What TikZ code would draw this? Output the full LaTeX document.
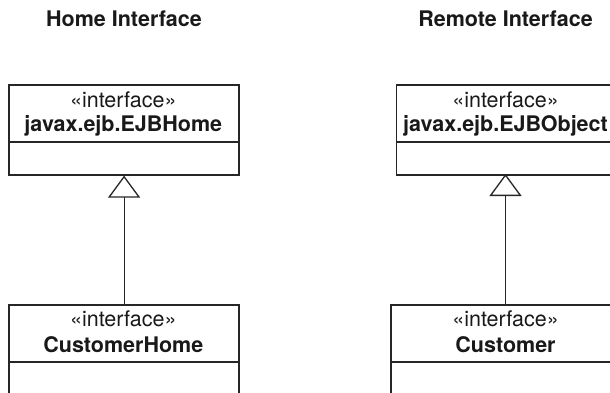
\documentclass[tikz,border=0pt]{standalone}
\usepackage{fontspec}
\setmainfont{TeX Gyre Heros}
\usetikzlibrary{arrows.meta}
\begin{document}
\begin{tikzpicture}[x=1pt,y=1pt,
  box/.style={draw=black!85, line width=1.6pt, rectangle, inner sep=0pt, anchor=north west},
  lbl/.style={anchor=base, inner sep=0pt, font=\fontsize{21.5}{24}\selectfont, text=black!90},
  nm/.style={lbl, font=\fontsize{21.5}{24}\selectfont\bfseries},
  gen/.style={draw=black!85, line width=1pt, -{Triangle[open, width=32pt, length=22pt, line width=1.3pt]}}]
\useasboundingbox (0,0) rectangle (610,392);
\clip (0,0) rectangle (610,392);
% titles
\node[nm] (t1) at (124,366) {Home Interface};
\node[nm] (t2) at (505.5,366) {Remote Interface};
% left top class
\node[box, minimum width=230pt, minimum height=57pt] (ehA) at (8.3,308) {};
\node[box, minimum width=230pt, minimum height=33pt] (ehB) at (8.3,251) {};
\node[lbl] (ehS) at (123.3,285) {«interface»};
\node[nm] (ehN) at (123.3,261) {javax.ejb.EJBHome};
% left bottom class
\node[box, minimum width=230pt, minimum height=57pt] (chA) at (8.3,88) {};
\node[box, minimum width=230pt, minimum height=50pt] (chB) at (8.3,31) {};
\node[lbl] (chS) at (123.3,65.3) {«interface»};
\node[nm] (chN) at (123.3,39.7) {CustomerHome};
% right top class
\node[box, minimum width=240pt, minimum height=57pt] (eoA) at (395.7,308) {};
\node[box, minimum width=240pt, minimum height=33pt] (eoB) at (395.7,251) {};
\node[lbl] (eoS) at (505.5,285) {«interface»};
\node[nm] (eoN) at (505.5,261) {javax.ejb.EJBObject};
% right bottom class
\node[box, minimum width=240pt, minimum height=57pt] (cuA) at (390,88) {};
\node[box, minimum width=240pt, minimum height=50pt] (cuB) at (390,31) {};
\node[lbl] (cuS) at (505.5,65.3) {«interface»};
\node[nm] (cuN) at (505.5,39.7) {Customer};
% generalizations
\coordinate (cuTop) at (505.5,88);
\coordinate (eoBot) at (505.5,218);
\draw[gen] (cuTop) -- (eoBot);
\draw[gen] (chA.north) -- (ehB.south);
\end{tikzpicture}
\end{document}
